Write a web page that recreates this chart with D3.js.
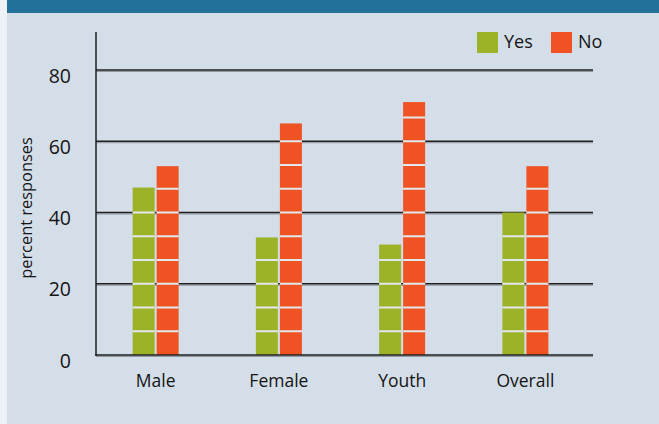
<!DOCTYPE html>
<html>
<head>
<meta charset="utf-8">
<script src="https://cdn.jsdelivr.net/npm/d3@7"></script>
<style>
  body { margin: 0; background: #eef2f7; }
  svg { display: block; }
  text { font-family: "Open Sans", "Noto Sans", sans-serif; fill: #141414; }
</style>
</head>
<body>
<svg id="svg" width="659" height="424"></svg>
<script>
const categories = ['Male', 'Female', 'Youth', 'Overall'];
const seriesNames = ['Yes', 'No'];
const yesValues = [47, 33, 31, 40];
const noValues = [53, 65, 71, 53];
const yTicks = [0, 20, 40, 60, 80];

const colors = { Yes: '#9db327', No: '#f05323' };
const bg = '#d4dee9';

const svg = d3.select('#svg');

// panel and header strip
svg.append('rect').attr('x', 7).attr('y', 0).attr('width', 652).attr('height', 424).attr('fill', bg);
svg.append('rect').attr('x', 7).attr('y', 0).attr('width', 652).attr('height', 13).attr('fill', '#22719a');

const x0 = 96, x1 = 593;
const yScale = d3.scaleLinear().domain([0, 80]).range([355, 70]);
const xScale = d3.scaleBand().domain(categories).range([94, 587]);
const barW = 22, barGap = 2;

const g = svg.append('g');

// grid lines (dark line with soft shadow)
yTicks.filter(t => t > 0).forEach(t => {
  g.append('line').attr('x1', x0).attr('x2', x1).attr('y1', yScale(t) + 1.5).attr('y2', yScale(t) + 1.5)
    .attr('stroke', '#8e969f').attr('stroke-width', 1);
  g.append('line').attr('x1', x0).attr('x2', x1).attr('y1', yScale(t)).attr('y2', yScale(t))
    .attr('stroke', '#1e1e1e').attr('stroke-width', 1.3);
});

// bars
const data = [];
categories.forEach((c, i) => {
  data.push({ cat: c, key: 'Yes', value: yesValues[i], k: 0 });
  data.push({ cat: c, key: 'No', value: noValues[i], k: 1 });
});
const barX = d => xScale(d.cat) + xScale.bandwidth() / 2 - barW - barGap / 2 + d.k * (barW + barGap);

g.selectAll('.bar').data(data).enter().append('rect')
  .attr('class', 'bar')
  .attr('x', barX)
  .attr('y', d => yScale(d.value))
  .attr('width', barW)
  .attr('height', d => yScale(0) - yScale(d.value))
  .attr('fill', d => colors[d.key]);

// segment separators every 20/3 units
const step = 20 / 3;
data.forEach(d => {
  for (let v = step; v < d.value - 0.5; v += step) {
    g.append('rect')
      .attr('x', barX(d)).attr('width', barW)
      .attr('y', yScale(v) - 1).attr('height', 2)
      .attr('fill', '#e3e8ef');
  }
});

// axes
g.append('line').attr('x1', x0).attr('x2', x0).attr('y1', 32).attr('y2', 356)
  .attr('stroke', '#1e1e1e').attr('stroke-width', 1.5);
g.append('line').attr('x1', x0).attr('x2', x1).attr('y1', 356.5).attr('y2', 356.5)
  .attr('stroke', '#8e969f').attr('stroke-width', 1);
g.append('line').attr('x1', x0 - 0.75).attr('x2', x1).attr('y1', 355).attr('y2', 355)
  .attr('stroke', '#1e1e1e').attr('stroke-width', 1.5);

const yAxis = d3.axisLeft(yScale).tickValues(yTicks).tickSize(0).tickPadding(0);
const ya = g.append('g').attr('transform', 'translate(71,0)').call(yAxis);
ya.select('.domain').remove();
ya.attr('font-size', null);
ya.selectAll('text').style('font-size', '19.5px').attr('dy', '0.62em').style('font-family', '"Open Sans", sans-serif').attr('fill', '#141414');

const xAxis = d3.axisBottom(xScale).tickSize(0).tickPadding(0);
const xa = g.append('g').attr('transform', 'translate(0,375)').call(xAxis);
xa.select('.domain').remove();
xa.attr('font-size', null);
xa.selectAll('text').style('font-size', '17.5px').attr('dy', '0.7em').style('font-family', '"Open Sans", sans-serif').attr('fill', '#141414');

svg.append('text')
  .attr('transform', 'translate(32,208) rotate(-90)')
  .attr('text-anchor', 'middle')
  .style('font-size', '16.4px')
  .text('percent responses');

// legend
const legend = svg.append('g');
const legX = [477, 551];
seriesNames.forEach((s, i) => {
  legend.append('rect').attr('x', legX[i]).attr('y', 32).attr('width', 21).attr('height', 21).attr('fill', colors[s]);
  legend.append('text').attr('x', legX[i] + 27).attr('y', 48).style('font-size', '18px').text(s);
});
</script>
</body>
</html>
